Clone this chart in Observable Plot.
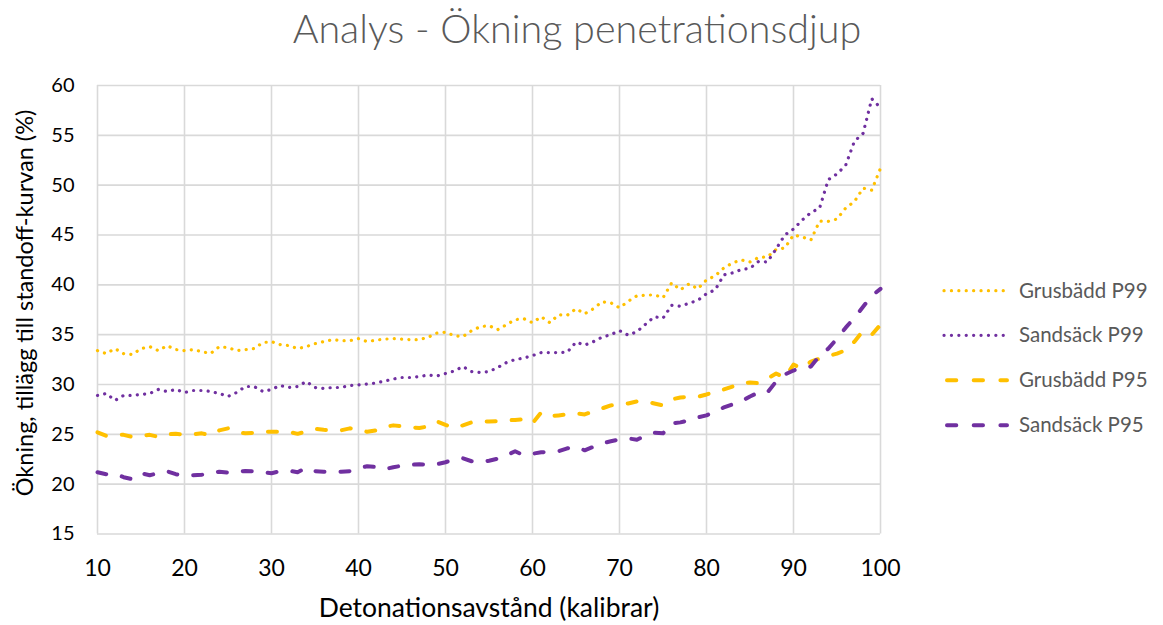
<!DOCTYPE html>
<html>
<head>
<meta charset="utf-8">
<script src="https://cdn.jsdelivr.net/npm/d3@7"></script>
<script src="https://cdn.jsdelivr.net/npm/@observablehq/plot@0.6"></script>
<style>
  html, body { margin: 0; padding: 0; background: #fff; }
  #wrap { position: relative; width: 1163px; height: 625px; overflow: hidden; }
  #wrap svg { position: absolute; left: 0; top: 0; }
</style>
</head>
<body>
<div id="wrap"></div>
<script>
const distances = [10,11,12,13,14,15,16,17,18,19,20,21,22,23,24,25,26,27,28,29,30,31,32,33,34,35,36,37,38,39,40,41,42,43,44,45,46,47,48,49,50,51,52,53,54,55,56,57,58,59,60,61,62,63,64,65,66,67,68,69,70,71,72,73,74,75,76,77,78,79,80,81,82,83,84,85,86,87,88,89,90,91,92,93,94,95,96,97,98,99,100];

const grusbaddP99 = [33.4,33.1,33.6,33.1,33.0,33.6,33.8,33.4,33.9,33.5,33.4,33.5,33.3,33.1,33.8,33.7,33.4,33.5,33.6,34.2,34.3,34.0,33.9,33.6,33.8,34.1,34.3,34.5,34.4,34.4,34.6,34.3,34.45,34.55,34.6,34.55,34.5,34.5,34.75,35.15,35.25,34.9,34.8,35.4,35.8,35.9,35.5,36.0,36.5,36.6,36.2,36.8,36.2,37.0,36.95,37.6,37.1,37.6,38.3,38.2,37.7,38.35,38.9,38.95,39.0,38.7,40.2,39.5,40.1,39.6,40.5,40.9,41.7,42.2,42.5,42.3,42.75,42.8,43.55,43.7,45.0,44.8,44.5,46.4,46.37,46.6,47.7,48.35,49.7,49.5,51.7];

const sandsackP99 = [28.9,29.1,28.4,28.9,28.9,29.0,29.1,29.5,29.3,29.5,29.2,29.4,29.4,29.3,29.1,28.8,29.2,29.8,29.8,29.3,29.5,29.9,29.7,29.8,30.3,29.7,29.6,29.7,29.7,29.9,29.95,30.05,30.15,30.35,30.55,30.7,30.7,30.8,30.95,30.85,31.1,31.35,31.8,31.3,31.2,31.3,31.7,32.2,32.5,32.65,32.9,33.2,33.2,33.2,33.25,34.25,33.95,34.3,34.75,35.0,35.4,34.95,35.3,36.05,36.8,36.65,37.95,37.85,38.15,38.45,39.1,39.5,41.0,41.2,41.53,41.65,42.35,42.3,43.6,45.0,45.6,46.5,47.25,47.7,50.55,51.13,52.0,54.4,55.2,58.67,57.77];

const grusbaddP95 = [25.2,24.85,24.95,24.95,24.75,24.85,24.95,24.75,25.0,25.05,24.95,25.0,25.1,24.9,25.4,25.6,25.2,25.1,25.15,25.25,25.25,25.25,25.25,25.05,25.3,25.55,25.45,25.4,25.4,25.6,25.5,25.25,25.4,25.75,25.9,25.8,25.7,25.63,25.8,26.3,25.95,25.65,25.9,26.2,26.3,26.3,26.33,26.4,26.45,26.5,26.1,27.2,26.8,26.9,27.0,27.1,27.0,27.3,27.6,27.9,27.95,28.1,28.3,28.3,28.1,27.9,28.5,28.7,28.75,28.77,29.0,29.3,29.5,29.8,30.1,30.2,30.13,30.6,31.1,30.7,32.0,31.6,32.3,32.6,32.85,33.1,33.45,34.3,35.4,35.0,36.0];

const sandsackP95 = [21.2,21.0,21.05,20.7,20.5,21.1,20.9,21.1,21.3,21.0,20.85,20.9,20.95,21.1,21.25,21.15,21.2,21.33,21.3,21.2,21.1,21.3,21.35,21.2,21.65,21.3,21.25,21.27,21.25,21.3,21.6,21.8,21.73,21.5,21.7,21.85,21.95,22.0,21.95,22.0,22.2,22.5,22.6,22.3,22.2,22.35,22.55,22.9,23.3,22.9,23.05,23.2,23.25,23.3,23.6,23.75,23.4,23.75,24.1,24.3,24.5,24.6,24.45,24.9,25.15,25.1,26.1,26.2,26.4,26.7,26.9,27.3,27.7,28.0,28.3,28.8,29.2,29.2,30.3,31.0,31.4,31.7,31.8,32.9,33.6,34.6,35.7,36.7,37.8,38.9,39.6];

const seriesNames = ["Grusbädd P99", "Sandsäck P99", "Grusbädd P95", "Sandsäck P95"];
const seriesValues = [grusbaddP99, sandsackP99, grusbaddP95, sandsackP95];
const xTicks = [10,20,30,40,50,60,70,80,90,100];
const yTicks = [15,20,25,30,35,40,45,50,55,60];

const titleText = "Analys - Ökning penetrationsdjup";
const xLabel = "Detonationsavstånd (kalibrar)";
const yLabel = "Ökning, tillägg till standoff-kurvan (%)";

const styles = {
  "Grusbädd P99": {stroke: "#FFC000", strokeWidth: 3.2, dash: "0.1,7.2"},
  "Sandsäck P99": {stroke: "#7030A0", strokeWidth: 3.2, dash: "0.1,7.2"},
  "Grusbädd P95": {stroke: "#FFC000", strokeWidth: 4, dash: "9,16"},
  "Sandsäck P95": {stroke: "#7030A0", strokeWidth: 4, dash: "9,16"}
};

const FONT = "Lato, 'Open Sans', sans-serif";

const rows = seriesNames.map((name, i) =>
  distances.map((d, j) => ({series: name, x: d, y: seriesValues[i][j]}))
);

const lineMarks = rows.map((r, i) => {
  const s = styles[seriesNames[i]];
  return Plot.line(r, {
    x: "x", y: "y",
    stroke: s.stroke, strokeWidth: s.strokeWidth,
    strokeDasharray: s.dash, strokeLinecap: "round", strokeLinejoin: "round"
  });
});

const chart = Plot.plot({
  width: 1163,
  height: 625,
  marginLeft: 97,
  marginRight: 283,
  marginTop: 85,
  marginBottom: 91.5,
  style: {fontFamily: FONT, background: "transparent", overflow: "visible"},
  x: {domain: [10, 100]},
  y: {domain: [15, 60]},
  marks: [
    Plot.gridX(xTicks, {stroke: "#d9d9d9", strokeOpacity: 1, strokeWidth: 1.6}),
    Plot.gridY(yTicks, {stroke: "#d9d9d9", strokeOpacity: 1, strokeWidth: 1.6}),
    Plot.axisX(xTicks, {tickSize: 0, tickPadding: 26, fontSize: 23, color: "#000", fill: "#000", label: null}),
    Plot.axisY(yTicks, {tickSize: 0, tickPadding: 23, fontSize: 20, color: "#000", fill: "#000", label: null}),
    ...lineMarks
  ]
});

const wrap = document.getElementById("wrap");
wrap.appendChild(chart);

// overlay for titles and legend
const ov = d3.select(wrap).append("svg")
  .attr("width", 1163).attr("height", 625)
  .style("font-family", FONT);

ov.append("text").attr("x", 577).attr("y", 43)
  .attr("text-anchor", "middle").attr("font-size", 39.5).attr("font-weight", 300).attr("fill", "#595959")
  .text(titleText);

ov.append("text").attr("x", 489).attr("y", 617)
  .attr("text-anchor", "middle").attr("font-size", 26.5).attr("fill", "#000")
  .text(xLabel);

ov.append("text").attr("transform", "translate(33,303) rotate(-90)")
  .attr("text-anchor", "middle").attr("font-size", 23.5).attr("fill", "#000")
  .text(yLabel);

const legendY = [290.7, 335.3, 380.3, 425.3];
seriesNames.forEach((name, i) => {
  const s = styles[name];
  const g = ov.append("g");
  g.append("line")
    .attr("x1", i < 2 ? 944 : 947).attr("x2", i < 2 ? 1010 : 1007)
    .attr("y1", legendY[i]).attr("y2", legendY[i])
    .attr("stroke", s.stroke).attr("stroke-width", s.strokeWidth)
    .attr("stroke-dasharray", i < 2 ? "0.1,7.3" : "9.3,17.4")
    .attr("stroke-linecap", "round");
  g.append("text").attr("x", 1019).attr("y", legendY[i] + 7)
    .attr("font-size", 20.5).attr("fill", "#595959")
    .text(name);
});
</script>
</body>
</html>
